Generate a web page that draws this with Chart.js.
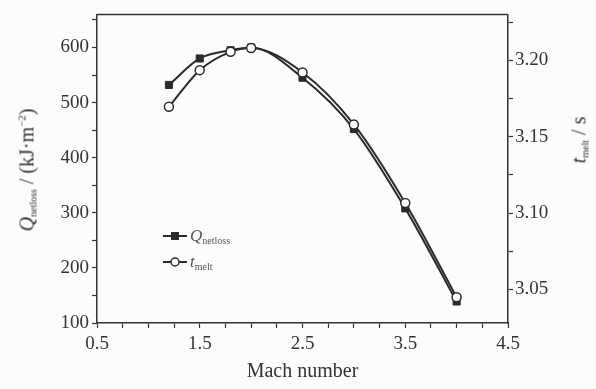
<!DOCTYPE html>
<html>
<head>
<meta charset="utf-8">
<script src="https://cdn.jsdelivr.net/npm/chart.js@4/dist/chart.umd.min.js"></script>
<style>
  html, body { margin: 0; padding: 0; background: #fbfcfb; }
  #wrap { position: relative; width: 596px; height: 389px; font-family: "Liberation Serif", "DejaVu Serif", serif; color: #333; }
  canvas { position: absolute; left: 0; top: 0; }
  .ytitle { position: absolute; white-space: nowrap; font-size: 20px; }
  .ytitle i { font-style: italic; }
  .ytitle sub, .leg sub { font-size: 10px; vertical-align: -3px; }
  #ytitle-left  { left: 27px;  top: 170px; transform: translate(-50%, -50%) rotate(-90deg); }
  #ytitle-right { left: 579px; top: 140px; transform: translate(-50%, -50%) rotate(-90deg); }
  .leg { position: absolute; left: 190px; font-size: 17px; font-style: italic; white-space: nowrap; line-height: 1; color: #555; }
</style>
</head>
<body>
<div id="wrap">
  <canvas id="chart" width="596" height="389"></canvas>
  <div class="ytitle" id="ytitle-left"><i>Q</i><sub>netloss</sub> / (kJ·m<sup style="font-size:11px">−2</sup>)</div>
  <div class="ytitle" id="ytitle-right"><i>t</i><sub>melt</sub> / s</div>
  <div class="leg" style="top:227px"><i>Q</i><sub style="font-style:normal">netloss</sub></div>
  <div class="leg" style="top:253px"><i>t</i><sub style="font-style:normal">melt</sub></div>
</div>
<script>
// ---------- data ----------
const mach     = [1.2, 1.5, 1.8, 2.0, 2.5, 3.0, 3.5, 4.0];
const qNetloss = [532, 580, 595, 600, 545, 452, 308, 139];      // kJ/m^2 (left axis)
const tMelt    = [3.1695, 3.1935, 3.2055, 3.208, 3.192, 3.158, 3.1065, 3.0448]; // s (right axis)

const xTicks  = [0.5, 0.75, 1.0, 1.25, 1.5, 1.75, 2.0, 2.25, 2.5, 2.75, 3.0, 3.25, 3.5, 3.75, 4.0, 4.25, 4.5];
const xLabels = [0.5, 1.5, 2.5, 3.5, 4.5];
const qTicks  = [100, 150, 200, 250, 300, 350, 400, 450, 500, 550, 600, 650];
const qLabels = [100, 200, 300, 400, 500, 600];
const tTicks  = [3.05, 3.075, 3.10, 3.125, 3.15, 3.175, 3.20, 3.225];
const tLabels = [3.05, 3.10, 3.15, 3.20];

const INK = '#333';
const FONT = '"Liberation Serif", "Times New Roman", serif';

const pts = ys => mach.map((x, i) => ({ x, y: ys[i] }));
const has = (list, v) => list.some(l => Math.abs(l - v) < 1e-6);

function axisGrid() {
    return { drawOnChartArea: false, drawTicks: true, tickLength: 5, color: INK, tickWidth: 1.2 };
}

// frame on the top side, plus the two legend samples
const framePlugin = {
    id: 'frame',
    afterDraw(chart) {
        const { ctx, chartArea: a } = chart;
        ctx.save();
        ctx.strokeStyle = INK;
        ctx.lineWidth = 1.5;
        ctx.beginPath();
        ctx.moveTo(a.left, a.top);
        ctx.lineTo(a.right, a.top);
        ctx.stroke();

        // legend samples
        ctx.lineWidth = 2;
        ctx.strokeStyle = '#2b2b2b';
        [[236, 'rect'], [262, 'circle']].forEach(([y, kind]) => {
            ctx.beginPath();
            ctx.moveTo(163, y);
            ctx.lineTo(187, y);
            ctx.stroke();
            if (kind === 'rect') {
                ctx.fillStyle = '#2b2b2b';
                ctx.fillRect(171, y - 4, 8, 8);
            } else {
                ctx.fillStyle = '#fff';
                ctx.lineWidth = 1.5;
                ctx.beginPath();
                ctx.arc(175, y, 4, 0, Math.PI * 2);
                ctx.fill();
                ctx.stroke();
            }
        });
        ctx.restore();
    }
};

new Chart(document.getElementById('chart'), {
    type: 'line',
    data: {
        datasets: [
            {
                label: 't_melt',
                data: pts(tMelt),
                yAxisID: 'y1',
                borderColor: '#2b2b2b',
                borderWidth: 2,
                cubicInterpolationMode: 'monotone',
                pointStyle: 'circle',
                pointRadius: 4.5,
                pointBorderWidth: 1.5,
                pointBackgroundColor: '#fff',
                pointBorderColor: '#2b2b2b',
            },
            {
                label: 'Q_netloss',
                data: pts(qNetloss),
                yAxisID: 'y',
                borderColor: '#2b2b2b',
                borderWidth: 2,
                cubicInterpolationMode: 'monotone',
                pointStyle: 'rect',
                pointRadius: 5,
                pointBorderWidth: 1,
                pointBackgroundColor: '#2b2b2b',
                pointBorderColor: '#2b2b2b',
            },
        ],
    },
    options: {
        responsive: false,
        animation: false,
        layout: { padding: { top: 12, left: 0, right: 0, bottom: 0 } },
        plugins: { legend: { display: false }, tooltip: { enabled: false } },
        scales: {
            x: {
                type: 'linear',
                min: 0.5, max: 4.5,
                afterBuildTicks: s => { s.ticks = xTicks.map(v => ({ value: v })); },
                afterFit: s => { s.height = 66; },
                grid: axisGrid(),
                border: { display: true, color: INK, width: 1.5 },
                ticks: {
                    color: INK, padding: 5, maxRotation: 0, autoSkip: false,
                    font: { family: FONT, size: 19 },
                    callback: v => has(xLabels, v) ? v.toFixed(1) : '',
                },
                title: {
                    display: true, text: 'Mach number', color: INK,
                    font: { family: FONT, size: 20 },
                    padding: { top: 0, bottom: 5 },
                },
            },
            y: {
                position: 'left',
                min: 100, max: 660,
                afterBuildTicks: s => { s.ticks = qTicks.map(v => ({ value: v })); },
                afterFit: s => { s.width = 97; },
                grid: axisGrid(),
                border: { display: true, color: INK, width: 1.5 },
                ticks: {
                    color: INK, padding: 3, autoSkip: false,
                    font: { family: FONT, size: 19 },
                    callback: v => has(qLabels, v) ? String(v) : '',
                },
            },
            y1: {
                position: 'right',
                min: 3.028, max: 3.23,
                afterBuildTicks: s => { s.ticks = tTicks.map(v => ({ value: v })); },
                afterFit: s => { s.width = 88; },
                grid: axisGrid(),
                border: { display: true, color: INK, width: 1.5 },
                ticks: {
                    color: INK, padding: 2, autoSkip: false,
                    font: { family: FONT, size: 19 },
                    callback: v => has(tLabels, v) ? v.toFixed(2) : '',
                },
            },
        },
    },
    plugins: [framePlugin],
});
</script>
</body>
</html>
